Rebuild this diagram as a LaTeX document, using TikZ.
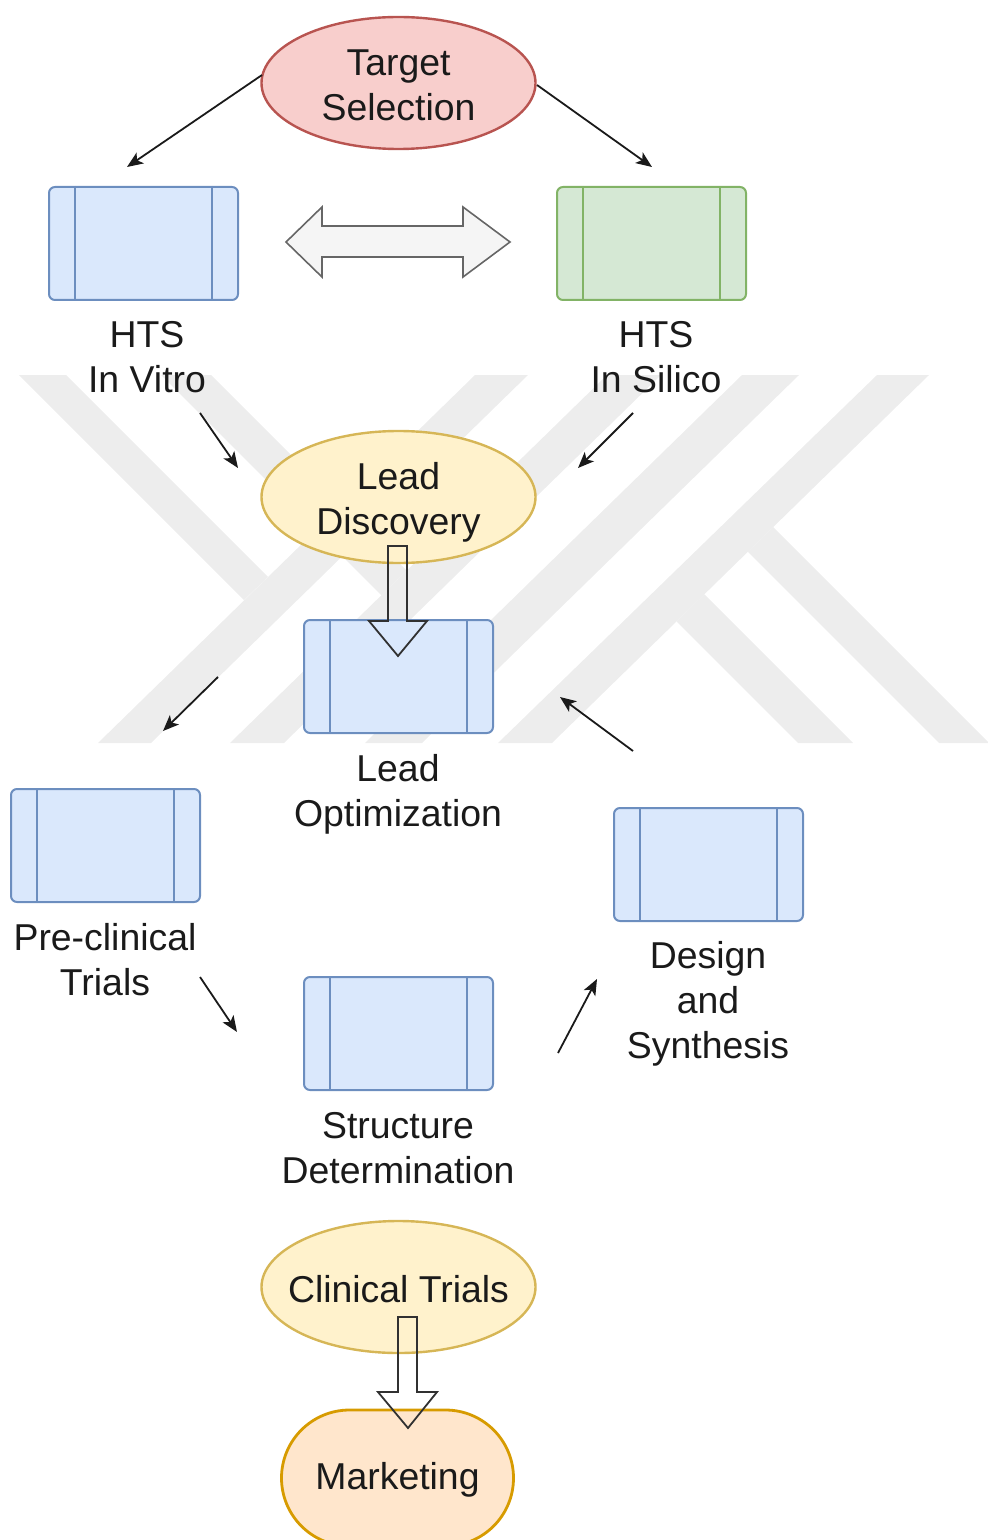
\documentclass[tikz,border=0pt]{standalone}
\usepackage{fontspec}
\setmainfont{Liberation Sans}
\usetikzlibrary{shapes.geometric, arrows.meta}

\definecolor{bluefill}{HTML}{DAE8FC}
\definecolor{bluedraw}{HTML}{6C8EBF}
\definecolor{greenfill}{HTML}{D5E8D4}
\definecolor{greendraw}{HTML}{82B366}
\definecolor{redfill}{HTML}{F8CECC}
\definecolor{reddraw}{HTML}{B85450}
\definecolor{yellowfill}{HTML}{FFF2CC}
\definecolor{yellowdraw}{HTML}{D6B656}
\definecolor{orangefill}{HTML}{FFE6CC}
\definecolor{orangedraw}{HTML}{D79B00}
\definecolor{grayfill}{HTML}{F5F5F5}
\definecolor{graydraw}{HTML}{666666}
\definecolor{wmgray}{HTML}{EDEDED}
\definecolor{ink}{HTML}{1A1A1A}

\tikzset{
  lbl/.style={font=\fontsize{18.7pt}{22.5pt}\selectfont, align=center, text=ink, inner sep=0pt},
  proc/.style={rectangle, rounded corners=3pt, minimum width=94.5pt, minimum height=56.5pt,
               line width=1pt, inner sep=0pt},
  oval/.style={ellipse, minimum width=137pt, minimum height=66pt, line width=1.2pt, inner sep=0pt},
  flowarrow/.style={line width=0.9pt, draw=ink, -{Stealth[length=8pt,width=6.5pt,inset=2pt]}},
  blockarrow/.style={line width=0.9pt, draw=ink!90, line join=miter},
  wmband/.style={fill=wmgray},
}

% vertical bars of a process box
\newcommand\procbars[2]{%
  \draw[#2, line width=1pt]
    ([xshift=13.7pt]#1.north west) -- ([xshift=13.7pt]#1.south west)
    ([xshift=-13.7pt]#1.north east) -- ([xshift=-13.7pt]#1.south east);}

\begin{document}
\begin{tikzpicture}[x=0.5pt, y=-0.5pt]
\useasboundingbox (0,0) rectangle (988,1540);
\clip (0,0) rectangle (988,1540);

% ---- background logo bands ----
\fill[wmband] (19,375) -- (66,375) -- (268,577) -- (244,600) -- cycle;
\fill[wmband] (98,743) -- (151,743) -- (528,375) -- (475,375) -- cycle;
\fill[wmband] (161,375) -- (211,375) -- (406.6,570.6) -- (381.3,595.3) -- cycle;
\fill[wmband] (230,743) -- (284,743) -- (661,375) -- (607,375) -- cycle;
\fill[wmband] (365,743) -- (422,743) -- (799,375) -- (742,375) -- cycle;
\fill[wmband] (498,743) -- (552,743) -- (929,375) -- (877,375) -- cycle;
\fill[wmband] (773.1,527.1) -- (989,743) -- (939,743) -- (747.8,551.8) -- cycle;
\fill[wmband] (704.3,594.3) -- (853,743) -- (798,743) -- (676.5,621.5) -- cycle;

% ---- stages ----
\node[oval, fill=redfill, draw=reddraw] (target) at (398.5,83) {};
\node[lbl] (targetlbl) at (398.5,85) {Target\\Selection};

\node[proc, fill=bluefill, draw=bluedraw] (vitro) at (143.5,243.5) {};
\procbars{vitro}{bluedraw}
\node[lbl] (vitrolbl) at (147,357) {HTS\\In Vitro};

\node[proc, fill=greenfill, draw=greendraw] (silico) at (651.5,243.5) {};
\procbars{silico}{greendraw}
\node[lbl] (silicolbl) at (656,357) {HTS\\In Silico};

% exchange between the two screening routes
\draw[fill=grayfill, draw=graydraw, line width=0.8pt, line join=miter]
  (286,242) -- (322,207) -- (322,226) -- (463,226) -- (463,207) -- (510,242)
  -- (463,277) -- (463,257) -- (322,257) -- (322,277) -- cycle;

\node[oval, fill=yellowfill, draw=yellowdraw] (discovery) at (398.5,497) {};
\node[lbl] (discoverylbl) at (398.5,502) {Lead\\Discovery};

\node[proc, fill=bluefill, draw=bluedraw] (leadopt) at (398.5,676.5) {};
\procbars{leadopt}{bluedraw}
\node[lbl] (leadoptlbl) at (398,794) {Lead\\Optimization};

\node[proc, fill=bluefill, draw=bluedraw] (preclin) at (105.5,845.5) {};
\procbars{preclin}{bluedraw}
\node[lbl] (preclinlbl) at (105,960) {Pre-clinical\\Trials};

\node[proc, fill=bluefill, draw=bluedraw] (design) at (708.5,864.5) {};
\procbars{design}{bluedraw}
\node[lbl] (designlbl) at (708,1004) {Design\\and\\Synthesis};

\node[proc, fill=bluefill, draw=bluedraw] (struct) at (398.5,1033.5) {};
\procbars{struct}{bluedraw}
\node[lbl] (structlbl) at (398,1148) {Structure\\Determination};

\node[oval, fill=yellowfill, draw=yellowdraw] (clinical) at (398.5,1287) {};
\node[lbl] (clinicallbl) at (398.5,1289) {Clinical Trials};

\node[rectangle, rounded corners=34pt, minimum width=116pt, minimum height=68pt,
      line width=1.4pt, fill=orangefill, draw=orangedraw] (market) at (397.5,1478) {};
\node[lbl] (marketlbl) at (397.5,1480) {Marketing};

% ---- hollow block arrows ----
\draw[blockarrow] (388,546) -- (407,546) -- (407,621) -- (427,621) -- (398,656)
  -- (369,621) -- (388,621) -- cycle;
\draw[blockarrow] (398,1317) -- (417,1317) -- (417,1392) -- (437,1392) -- (408,1428)
  -- (378,1392) -- (398,1392) -- cycle;

% ---- flow arrows ----
\coordinate (ts1) at (262,75);   \coordinate (te1) at (127,167);
\coordinate (ts2) at (537,85);   \coordinate (te2) at (652,167);
\coordinate (vs) at (200,413);   \coordinate (ve) at (238,468);
\coordinate (ss) at (633,413);   \coordinate (se) at (578,468);
\coordinate (ls) at (218,677);   \coordinate (le) at (163,731);
\coordinate (ds) at (633,751);   \coordinate (de) at (560,697);
\coordinate (ps) at (200,977);   \coordinate (pe) at (237,1032);
\coordinate (cs) at (558,1053);  \coordinate (ce) at (597,979);

\draw[flowarrow] (ts1) -- (te1);
\draw[flowarrow] (ts2) -- (te2);
\draw[flowarrow] (vs) -- (ve);
\draw[flowarrow] (ss) -- (se);
\draw[flowarrow] (ls) -- (le);
\draw[flowarrow] (ds) -- (de);
\draw[flowarrow] (ps) -- (pe);
\draw[flowarrow] (cs) -- (ce);
\end{tikzpicture}
\end{document}
